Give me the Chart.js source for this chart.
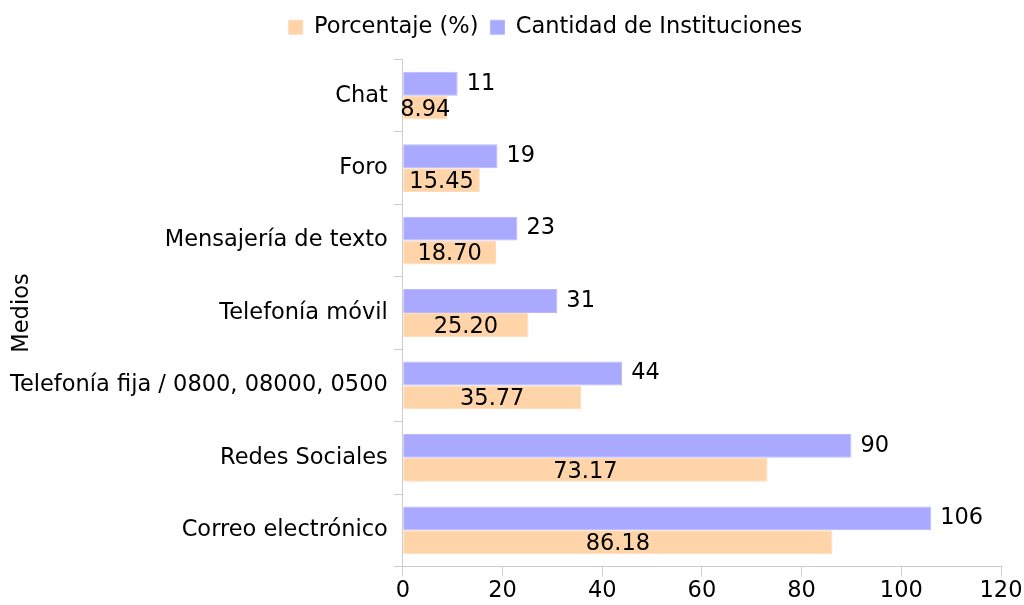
<!DOCTYPE html>
<html>
<head>
<meta charset="utf-8">
<script src="https://cdn.jsdelivr.net/npm/chart.js@4"></script>
<style>
  html, body { margin: 0; padding: 0; background: #fff; }
  #wrap { width: 1024px; height: 605px; }
</style>
</head>
<body>
<div id="wrap"><canvas id="chart"></canvas></div>
<script>
const medios = ["Chat", "Foro", "Mensajería de texto", "Telefonía móvil",
  "Telefonía fija / 0800, 08000, 0500", "Redes Sociales", "Correo electrónico"];
const cantidad = [11, 19, 23, 31, 44, 90, 106];
const porcentaje = [8.94, 15.45, 18.70, 25.20, 35.77, 73.17, 86.18];
const xTicks = [0, 20, 40, 60, 80, 100, 120];

const FONT = "DejaVu Sans";
const SIZE = 22.5;

// etiquetas de valor sobre las barras + titulo del eje y
const valueLabels = {
  id: "valueLabels",
  beforeInit(chart) {
    // algo mas de aire bajo la leyenda
    const fit = chart.legend.fit;
    chart.legend.fit = function () {
      fit.call(this);
      this.height += 11;
    };
  },
  afterLayout(chart) {
    // la leyenda del original esta algo corrida a la derecha
    chart.legend.left += 34;
    chart.legend.right += 34;
  },
  afterDatasetsDraw(chart) {
    const ctx = chart.ctx;
    ctx.save();
    ctx.font = `${SIZE}px "${FONT}"`;
    ctx.fillStyle = "#000";
    ctx.textBaseline = "middle";
    chart.data.datasets.forEach((ds, i) => {
      const meta = chart.getDatasetMeta(i);
      meta.data.forEach((bar, j) => {
        if (ds.label === "Cantidad de Instituciones") {
          ctx.textAlign = "left";
          ctx.fillText(String(ds.data[j]), bar.x + 9, bar.y);
        } else {
          ctx.textAlign = "center";
          ctx.fillText(ds.data[j].toFixed(2), (bar.x + bar.base) / 2, bar.y + 2);
        }
      });
    });
    // "Medios" pegado al borde izquierdo, como en el original
    const area = chart.chartArea;
    ctx.translate(22, (area.top + area.bottom) / 2);
    ctx.rotate(-Math.PI / 2);
    ctx.textAlign = "center";
    ctx.fillText("Medios", 0, 0);
    ctx.restore();
  }
};

new Chart(document.getElementById("chart"), {
  type: "bar",
  data: {
    labels: medios,
    datasets: [
      {
        label: "Cantidad de Instituciones",
        data: cantidad,
        backgroundColor: "#a9a9ff",
        borderColor: "#b8b8ff",
        borderWidth: 1
      },
      {
        label: "Porcentaje (%)",
        data: porcentaje,
        backgroundColor: "#ffd4a8",
        borderColor: "#ffdcb8",
        borderWidth: 1
      }
    ]
  },
  options: {
    indexAxis: "y",
    responsive: true,
    maintainAspectRatio: false,
    animation: false,
    datasets: { bar: { categoryPercentage: 0.66, barPercentage: 1 } },
    layout: { padding: { top: 4, right: 5, left: 4, bottom: 0 } },
    plugins: {
      legend: {
        reverse: true,
        labels: {
          font: { family: FONT, size: SIZE },
          color: "#000",
          boxWidth: 14,
          boxHeight: 14,
          padding: 12
        }
      },
      tooltip: { enabled: false }
    },
    scales: {
      x: {
        min: 0,
        max: 120,
        afterBuildTicks(axis) { axis.ticks = xTicks.map(v => ({ value: v })); },
        afterFit(axis) { axis.paddingRight = 23; },
        grid: { drawOnChartArea: false, drawTicks: true, tickLength: 10, color: "#cccccc" },
        border: { color: "#cccccc" },
        ticks: { font: { family: FONT, size: SIZE, lineHeight: 1 }, color: "#000", padding: 3 }
      },
      y: {
        grid: { drawOnChartArea: false, drawTicks: true, tickLength: 9, color: "#cccccc", offset: true },
        border: { color: "#cccccc" },
        ticks: { font: { family: FONT, size: SIZE }, color: "#000", padding: 6 }
      }
    }
  },
  plugins: [valueLabels]
});
</script>
</body>
</html>
